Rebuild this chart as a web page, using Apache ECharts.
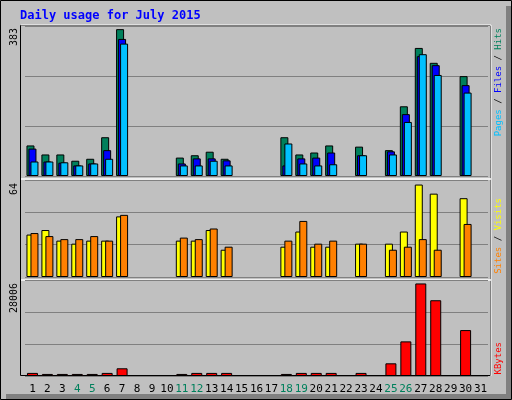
<!DOCTYPE html>
<html>
<head>
<meta charset="utf-8">
<script src="https://cdn.jsdelivr.net/npm/echarts@6/dist/echarts.min.js"></script>
<style>body{margin:0;background:#c0c0c0}#c{width:512px;height:400px}</style>
</head>
<body>
<div id="c"></div>
<script>
const days = Array.from({length: 31}, (_, i) => String(i + 1));
const weekend = ['4','5','11','12','18','19','25','26'];
// top panel
const hits  = [78,55,55,39,44,99,375,null,null,null,47,53,62,44,null,null,null,99,55,60,78,null,75,null,66,178,327,289,null,255,null];
const files = [70,37,34,27,32,66,350,null,null,null,32,45,45,40,null,null,null,27,45,47,60,null,53,null,63,158,306,283,null,232,null];
const pages = [37,37,35,27,32,44,338,null,null,null,27,27,39,27,null,null,null,83,32,27,30,null,53,null,55,138,311,258,null,213,null];
// middle panel
const visits = [28,31,24,22,24,24,40,null,null,null,24,24,31,18,null,null,null,20,30,20,20,null,22,null,22,30,61,55,null,52,null];
const sites  = [29,27,25,25,27,24,41,null,null,null,26,25,32,20,null,null,null,24,37,22,24,null,22,null,18,20,25,18,null,35,null];
// bottom panel
const kbytes = [900,600,600,600,600,900,2250,null,null,null,600,900,900,900,null,null,null,600,900,900,900,null,900,null,3700,10100,27000,22100,null,13400,null];
const maxHits = 383, maxVisits = 64, maxKB = 28006;

const chart = echarts.init(document.getElementById('c'));
const mono = 'DejaVu Sans Mono';
const grids = [
  {left: 25, right: 24, top: 26, height: 150},
  {left: 25, right: 24, top: 180, height: 97},
  {left: 25, right: 24, top: 280, height: 96}
];
const maxes = [maxHits, maxVisits, maxKB];
function bar(name, data, idx, color, width, gap) {
  return {type: 'bar', name, data, xAxisIndex: idx, yAxisIndex: idx, barWidth: width, barGap: gap,
    itemStyle: {color, borderColor: '#000', borderWidth: 1}, animation: false};
}
function vtext(x, y, parts) {
  return {type: 'text', x, y, rotation: Math.PI / 2,
    style: {text: parts.map((p, i) => '{s' + i + '|' + p[0] + '}').join(''),
      rich: Object.fromEntries(parts.map((p, i) => ['s' + i, {fill: p[1], font: '9px ' + mono}])),
      align: 'right', verticalAlign: 'middle'}};
}
function num(y, v) {
  return {type: 'text', x: 14, y, rotation: Math.PI / 2,
    style: {text: String(v), fill: '#000', font: '10px ' + mono, align: 'right', verticalAlign: 'middle'}};
}
chart.setOption({
  backgroundColor: '#c0c0c0',
  grid: grids,
  xAxis: grids.map((g, i) => ({type: 'category', gridIndex: i, data: days,
    axisLine: {show: false}, axisTick: {show: false},
    axisLabel: {show: i === 2, margin: 8, fontFamily: mono, fontSize: 11, interval: 0,
      color: v => weekend.includes(v) ? '#00805c' : '#000'}})),
  yAxis: grids.map((g, i) => ({type: 'value', gridIndex: i, min: 0, max: maxes[i], interval: maxes[i] / 3,
    axisLabel: {show: false}, axisLine: {show: false}, axisTick: {show: false},
    splitLine: {lineStyle: {color: '#808080', width: 1}}})),
  series: [
    bar('Hits', hits, 0, '#00805c', 8, '-75%'),
    bar('Files', files, 0, '#0000ff', 8, '-75%'),
    bar('Pages', pages, 0, '#00c0ff', 8, '-75%'),
    bar('Visits', visits, 1, '#ffff00', 8, '-50%'),
    bar('Sites', sites, 1, '#ff8000', 8, '-50%'),
    bar('KBytes', kbytes, 2, '#ff0000', 11, '0%')
  ],
  graphic: [
    {type: 'rect', shape: {x: 0.5, y: 0.5, width: 511, height: 399}, style: {fill: 'none', stroke: '#000'}, z: -1},
    {type: 'rect', shape: {x: 506, y: 6, width: 5, height: 393}, style: {fill: '#808080'}},
    {type: 'rect', shape: {x: 6, y: 394, width: 505, height: 5}, style: {fill: '#808080'}},
    {type: 'rect', shape: {x: 20.5, y: 25.5, width: 470, height: 350}, style: {fill: 'none', stroke: '#000'}, z: 0},
    {type: 'line', shape: {x1: 21, y1: 25, x2: 491, y2: 25}, style: {stroke: '#fff'}},
    {type: 'line', shape: {x1: 21, y1: 179, x2: 491, y2: 179}, style: {stroke: '#fff', lineWidth: 1.5}},
    {type: 'line', shape: {x1: 21, y1: 280, x2: 491, y2: 280}, style: {stroke: '#fff', lineWidth: 1.5}},
    {type: 'line', shape: {x1: 491, y1: 25, x2: 491, y2: 376}, style: {stroke: '#fff'}},
    {type: 'text', x: 20, y: 16, style: {text: 'Daily usage for July 2015', fill: '#0000ff',
      font: 'bold 12px ' + mono, verticalAlign: 'middle'}},
    num(28, maxHits), num(183, maxVisits), num(283, maxKB),
    vtext(499, 28, [['Pages', '#00c0ff'], [' / ', '#000'], ['Files', '#0000ff'], [' / ', '#000'], ['Hits', '#00805c']]),
    vtext(499, 198, [['Sites', '#ff8000'], [' / ', '#000'], ['Visits', '#ffff00']]),
    vtext(499, 342, [['KBytes', '#ff0000']])
  ]
});
</script>
</body>
</html>
